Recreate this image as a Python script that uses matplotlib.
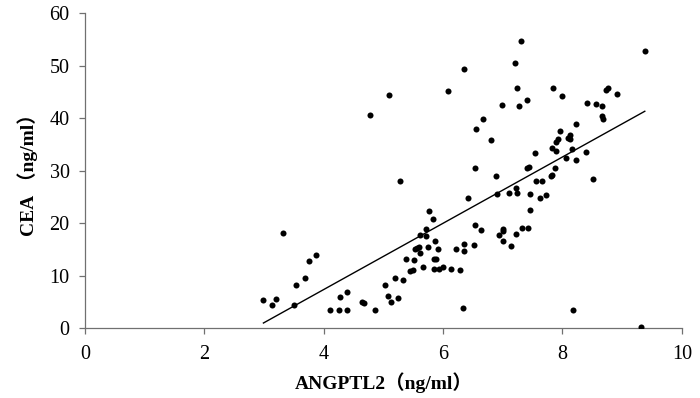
import numpy as np
import matplotlib
matplotlib.use("Agg")
import matplotlib.pyplot as plt

# ANGPTL2 (ng/ml) vs CEA (ng/ml)
angptl2 = [2.99, 3.14, 3.20, 3.32, 3.50, 3.53, 3.68, 3.76, 3.87, 4.10,
           4.26, 4.28, 4.39, 4.39, 4.64, 4.67, 4.78, 4.86, 5.03, 5.07,
           5.10, 5.12, 5.20, 5.25, 5.28, 5.33, 5.38, 5.45, 5.49, 5.51,
           5.53, 5.57, 5.60, 5.61, 5.62, 5.66, 5.71, 5.72, 5.75, 5.77,
           5.83, 5.84, 5.85, 5.87, 5.88, 5.91, 5.94, 6.00, 6.08, 6.13,
           6.22, 6.29, 6.34, 6.35, 6.35, 6.35, 6.41, 6.52, 6.53, 6.53,
           6.56, 6.64, 6.67, 6.80, 6.89, 6.90, 6.93, 6.98, 7.01, 7.01,
           7.01, 7.10, 7.14, 7.20, 7.22, 7.22, 7.24, 7.24, 7.28, 7.31,
           7.32, 7.40, 7.40, 7.44, 7.43, 7.45, 7.46, 7.54, 7.55, 7.63,
           7.66, 7.73, 7.81, 7.83, 7.83, 7.84, 7.87, 7.89, 7.90, 7.93,
           7.96, 7.99, 8.06, 8.10, 8.12, 8.12, 8.16, 8.18, 8.22, 8.23,
           8.39, 8.41, 8.51, 8.57, 8.66, 8.66, 8.68, 8.73, 8.77, 8.92,
           9.32, 9.38]
cea = [5.4, 4.4, 5.6, 18.1, 4.3, 8.2, 9.6, 12.8, 13.9, 3.5,
       3.5, 5.9, 6.8, 3.5, 4.9, 4.7, 40.5, 3.4, 8.1, 6.1,
       44.4, 5.0, 9.6, 5.7, 28.0, 9.2, 13.2, 10.8, 11.0, 13.0,
       15.0, 15.3, 15.5, 14.3, 17.7, 11.7, 18.8, 17.6, 15.5, 22.2,
       20.7, 13.1, 11.2, 16.6, 13.1, 15.1, 11.2, 11.6, 45.2, 11.2,
       15.1, 11.0, 3.9, 49.4, 16.0, 14.6, 24.7, 15.8, 30.5, 19.6,
       38.0, 18.6, 39.8, 35.8, 28.9, 25.5, 17.7, 42.5, 18.9, 18.4,
       16.6, 25.7, 15.7, 50.5, 17.9, 26.6, 25.8, 45.8, 42.3, 54.6,
       19.1, 30.5, 43.5, 30.7, 19.1, 22.4, 25.5, 33.3, 28.0, 24.8,
       28.0, 25.4, 29.0, 29.1, 34.3, 45.8, 30.5, 33.8, 35.5, 36.1,
       37.6, 44.3, 32.4, 36.3, 36.8, 36.1, 34.2, 3.5, 38.8, 32.1,
       33.6, 42.8, 28.4, 42.6, 42.3, 40.4, 39.8, 45.4, 45.8, 44.5,
       0.1, 52.8]

# trend line endpoints as drawn in the reference
fit_x = [2.99, 9.38]
fit_y = [0.95, 41.3]

x_ticks = [0, 2, 4, 6, 8, 10]
y_ticks = [0, 10, 20, 30, 40, 50, 60]

serif = ["Liberation Serif", "Noto Sans CJK SC"]

fig = plt.figure(figsize=(7, 3.98), dpi=100)
ax = fig.add_axes([0.1214, 0.1759, 0.8526, 0.7911])

ax.scatter(angptl2, cea, s=19, color="black", linewidths=0, zorder=3)
ax.plot(fit_x, fit_y, color="black", lw=1.0)

ax.set_xlim(0, 10)
ax.set_ylim(0, 60)
ax.set_xticks(x_ticks)
ax.set_yticks(y_ticks)
for s in ("top", "right"):
    ax.spines[s].set_visible(False)
for s in ("left", "bottom"):
    ax.spines[s].set_linewidth(0.9)
    ax.spines[s].set_color("#707070")
ax.tick_params(direction="out", length=4, width=0.9, color="#707070",
               labelsize=14.5)
ax.tick_params(axis="x", pad=8)
ax.tick_params(axis="y", pad=7)
for lab in ax.get_xticklabels() + ax.get_yticklabels():
    lab.set_family(serif)

ax.set_xlabel("ANGPTL2（ng/ml）", family=serif, fontsize=14,
              fontweight="bold", labelpad=6)
ax.set_ylabel("CEA （ng/ml）", family=serif, fontsize=14,
              fontweight="bold", labelpad=8)

fig.savefig("out.png", dpi=100)
